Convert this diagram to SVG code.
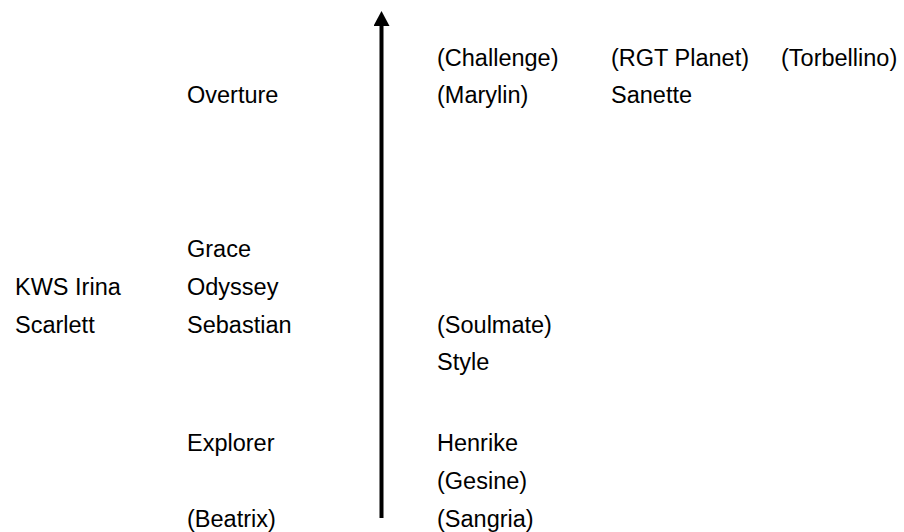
<svg xmlns="http://www.w3.org/2000/svg" width="904" height="532" viewBox="0 0 904 532">
<style>
text { font-family: "Liberation Sans", Arial, sans-serif; font-size: 23.5px; fill: #000; }
</style>
<defs>
<marker id="ah" markerWidth="15" markerHeight="16" refX="0" refY="8" orient="auto" markerUnits="userSpaceOnUse">
<path d="M0,0 L15,8 L0,16 Z" fill="#000"/>
</marker>
</defs>
<rect width="904" height="532" fill="#fff"/>
<g id="connectors">
<line x1="381.5" y1="518" x2="381.5" y2="26" stroke="#000" stroke-width="4" marker-end="url(#ah)"/>
</g>
<g id="left">
<text x="15" y="295">KWS Irina</text>
<text x="15" y="333">Scarlett</text>
</g>
<g id="middle">
<text x="187" y="103">Overture</text>
<text x="187" y="257">Grace</text>
<text x="187" y="295">Odyssey</text>
<text x="187" y="333">Sebastian</text>
<text x="187" y="451">Explorer</text>
<text x="187" y="527">(Beatrix)</text>
</g>
<g id="right">
<text x="437" y="66">(Challenge)</text>
<text x="437" y="103">(Marylin)</text>
<text x="437" y="333">(Soulmate)</text>
<text x="437" y="370">Style</text>
<text x="437" y="451">Henrike</text>
<text x="437" y="489">(Gesine)</text>
<text x="437" y="527">(Sangria)</text>
</g>
<g id="far-right">
<text x="611" y="66">(RGT Planet)</text>
<text x="611" y="103">Sanette</text>
<text x="781" y="66">(Torbellino)</text>
</g>
</svg>
